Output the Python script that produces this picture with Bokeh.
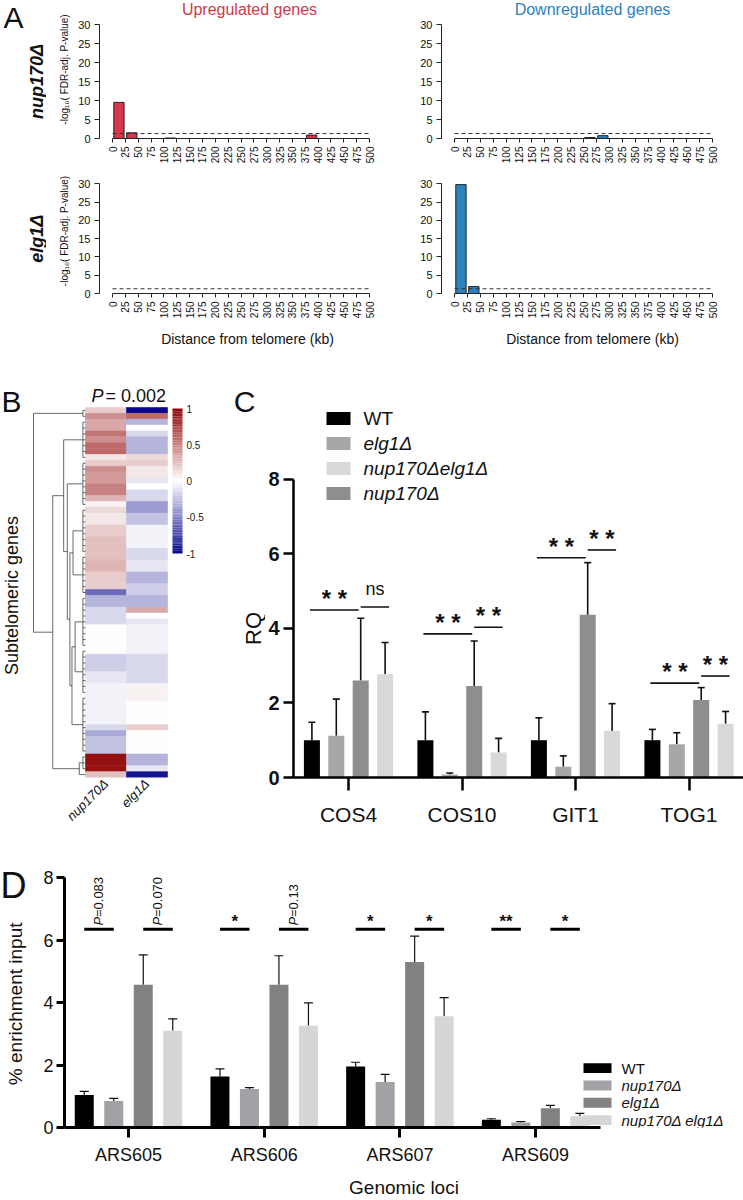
import numpy as np
from bokeh.plotting import figure
from bokeh.models import (Range1d, FixedTicker, Label, LabelSet, ColumnDataSource,
                          LinearColorMapper)
from bokeh.layouts import column, row
from bokeh.embed import file_html
from bokeh.resources import INLINE
from bokeh.core.properties import value
from bokeh.transform import transform

FONT = "Liberation Sans"

# ===================== Panel A data =====================
bin_start_kb = [0, 25, 50, 75, 100, 125, 150, 175, 200, 225,
                250, 275, 300, 325, 350, 375, 400, 425, 450, 475]
a_ticks_kb = [0, 25, 50, 75, 100, 125, 150, 175, 200, 225, 250,
              275, 300, 325, 350, 375, 400, 425, 450, 475, 500]
a_yticks = [0, 5, 10, 15, 20, 25, 30]
up_nup170 = [9.5, 1.5, 0, 0, 0.12, 0, 0, 0, 0, 0, 0, 0, 0, 0, 0, 0.9, 0, 0, 0, 0]
down_nup170 = [0, 0, 0, 0, 0, 0, 0, 0, 0, 0, 0.25, 0.75, 0, 0, 0, 0, 0, 0, 0, 0]
up_elg1 = [0, 0, 0, 0, 0, 0, 0, 0, 0, 0, 0, 0, 0, 0, 0, 0, 0, 0, 0, 0]
down_elg1 = [29.8, 1.9, 0, 0, 0, 0, 0, 0, 0, 0, 0, 0, 0, 0, 0, 0, 0, 0, 0, 0]
fdr_cutoff = 1.3
UP_COLOR = "#d6374b"
DOWN_COLOR = "#2b82bf"

# ===================== Panel B data (log-fold changes, top to bottom) =====================
hm_nup170 = [0.2, 0.45, 0.35, 0.35, 0.55, 0.45, 0.6, 0.6, 0.1, 0.2,
              0.45, 0.4, 0.4, 0.5, 0.5, 0.3, 0.05, 0.15, 0.1, 0.1,
              0.2, 0.2, 0.25, 0.25, 0.25, 0.25, 0.3, 0.3, 0.2, 0.2,
              0.2, -0.6, -0.3, -0.3, -0.15, -0.15, -0.15, 0.0, 0.0, 0.0,
              0.0, 0.0, -0.2, -0.2, -0.2, -0.1, -0.1, -0.05, -0.05, -0.05,
              -0.05, -0.05, -0.05, -0.05, -0.15, -0.35, -0.25, -0.25, -0.25, 0.95,
              0.95, 0.95, 0.25]
hm_elg1 = [-1.0, 0.6, -0.3, 0.0, -0.15, -0.3, -0.3, -0.3, 0.15, 0.2,
           0.1, 0.1, -0.1, 0.0, -0.15, -0.15, -0.4, -0.4, -0.25, -0.25,
           -0.05, -0.05, -0.05, -0.05, -0.15, -0.15, -0.1, -0.1, -0.3, -0.3,
           -0.2, -0.2, -0.3, -0.3, 0.35, 0.0, -0.1, -0.05, -0.05, -0.05,
           -0.05, -0.05, -0.15, -0.15, -0.15, -0.15, -0.15, 0.05, 0.05, 0.05,
           0.0, 0.0, 0.0, 0.0, 0.2, 0.0, 0.0, 0.0, 0.0, -0.3,
           -0.3, -0.1, -0.95]
hm_columns = ["nup170Δ", "elg1Δ"]
# dendrogram: leaf clusters (first/last row) and merges (height, upper child, lower child)
dend_cl_first = [0, 2, 9, 17, 25, 32, 41, 49, 59, 62]
dend_cl_last = [1, 8, 16, 24, 31, 40, 48, 58, 61, 62]
dend_height = [0.20, 0.26, 0.24, 0.30, 0.35, 0.42, 0.12, 0.63, 1.00]
dend_upper = ["c5", "n0", "c3", "n2", "c2", "c1", "c8", "n5", "c0"]
dend_lower = ["c6", "c7", "c4", "n1", "n3", "n4", "c9", "n6", "n7"]
dend_leaf_h = 0.05
cb_ticks = [1, 0.5, 0, -0.5, -1]
cb_tick_text = ["1", "0.5", "0", "-0.5", "-1"]

# ===================== Panel C data =====================
c_genes = ["COS4", "COS10", "GIT1", "TOG1"]
c_bar_strains = ["WT", "elg1Δ", "nup170Δ", "nup170Δelg1Δ"]
c_legend_order = ["WT", "elg1Δ", "nup170Δelg1Δ", "nup170Δ"]
rq_wt = [1.0, 1.0, 1.0, 1.0]
rq_wt_sd = [0.48, 0.76, 0.60, 0.29]
rq_elg1 = [1.12, 0.08, 0.29, 0.89]
rq_elg1_sd = [0.98, 0.04, 0.29, 0.31]
rq_nup170 = [2.60, 2.45, 4.36, 2.08]
rq_nup170_sd = [1.67, 1.21, 1.40, 0.33]
rq_double = [2.77, 0.67, 1.25, 1.44]
rq_double_sd = [0.85, 0.38, 0.73, 0.33]
c_yticks = [0, 2, 4, 6, 8]
c_sig1_y = [4.49, 3.85, 5.89, 2.53]
c_sig1_txt = ["* *", "* *", "* *", "* *"]
c_sig2_y = [4.57, 4.03, 6.10, 2.72]
c_sig2_txt = ["ns", "* *", "* *", "* *"]
C_COLORS = {"WT": "#000000", "elg1Δ": "#a7a7a7", "nup170Δ": "#8e8e8e", "nup170Δelg1Δ": "#d9d9d9"}

# ===================== Panel D data =====================
d_loci = ["ARS605", "ARS606", "ARS607", "ARS609"]
d_bar_strains = ["WT", "nup170Δ", "elg1Δ", "nup170Δ elg1Δ"]
enr_wt = [1.04, 1.63, 1.95, 0.25]
enr_wt_sd = [0.12, 0.25, 0.14, 0.03]
enr_nup170 = [0.85, 1.23, 1.46, 0.16]
enr_nup170_sd = [0.08, 0.05, 0.24, 0.03]
enr_elg1 = [4.57, 4.57, 5.30, 0.62]
enr_elg1_sd = [0.96, 0.93, 0.83, 0.09]
enr_double = [3.10, 3.26, 3.56, 0.36]
enr_double_sd = [0.38, 0.73, 0.60, 0.09]
d_yticks = [0, 2, 4, 6, 8]
d_sig_y = 6.35
d_sig1_txt = ["P=0.083", "*", "*", "**"]
d_sig2_txt = ["P=0.070", "P=0.13", "*", "*"]
D_COLORS = {"WT": "#000000", "nup170Δ": "#a2a2a6", "elg1Δ": "#828282", "nup170Δ elg1Δ": "#d6d6d6"}


def base_fig(width, height, xr, yr, left=0, right=0, top=0, bottom=0, axes=True):
    kw = dict(width=width, height=height, x_range=xr, y_range=yr, output_backend="svg",
              toolbar_location=None, min_border_left=left, min_border_right=right,
              min_border_top=top, min_border_bottom=bottom)
    if not axes:
        kw.update(x_axis_location=None, y_axis_location=None)
    p = figure(**kw)
    p.outline_line_color = None
    p.grid.visible = False
    p.background_fill_color = "white"
    p.border_fill_color = "white"
    return p


def style_axis(ax, size, color="#222222", lw=1, tick_out=4, standoff=3, bold=False):
    ax.axis_line_color = color
    ax.axis_line_width = lw
    ax.major_tick_line_color = color
    ax.major_tick_line_width = lw
    ax.major_tick_out = tick_out
    ax.major_tick_in = 0
    ax.minor_tick_line_color = None
    ax.major_label_text_font = FONT
    ax.major_label_text_font_size = size
    ax.major_label_text_color = "#111111"
    ax.major_label_standoff = standoff
    ax.major_label_text_font_style = "bold" if bold else "normal"


def axis_title(ax, text, size, standoff):
    ax.axis_label = text
    ax.axis_label_text_font = FONT
    ax.axis_label_text_font_size = size
    ax.axis_label_text_font_style = "normal"
    ax.axis_label_text_color = "#111111"
    ax.axis_label_standoff = standoff


def lab(p, x, y, text, size, style="normal", angle=0.0, align="center", baseline="middle", color="#111111"):
    p.add_layout(Label(x=x, y=y, text=text, text_font=FONT, text_font_size=size,
                       text_font_style=style, angle=angle, text_align=align,
                       text_baseline=baseline, text_color=color))


def gutter(width, height, bottom):
    fh = height - bottom
    return base_fig(width, height, Range1d(0, width), Range1d(fh, 0), bottom=bottom, axes=False)


# ===================== Panel A =====================
def panel_a(width, height, border_left, zero_px, kb_px, frame_h, vals, color,
            title=None, title_px=None, ylab=False, xlabel=None):
    unit_px = 3.8
    X = lambda lx: (lx - zero_px) / kb_px
    Y = lambda ly: (frame_h - ly) / unit_px
    p = base_fig(width, height, Range1d(X(border_left), X(width)), Range1d(0, Y(0)),
                 left=border_left, bottom=height - frame_h)
    xa, ya = p.xaxis[0], p.yaxis[0]
    xa.ticker = FixedTicker(ticks=a_ticks_kb)
    xa.bounds = (a_ticks_kb[0], a_ticks_kb[-1])
    xa.major_label_orientation = np.pi / 2
    style_axis(xa, "10px", tick_out=4, standoff=4)
    ya.ticker = FixedTicker(ticks=a_yticks)
    ya.bounds = (a_yticks[0], a_yticks[-1])
    style_axis(ya, "11px", tick_out=5, standoff=4)
    if ylab:
        axis_title(ya, "-log\u2081\u2080( FDR-adj. P-value)", "10px", 5)
    if xlabel:
        axis_title(xa, xlabel, "14px", 10)
    bw = bin_start_kb[1] - bin_start_kb[0]
    centers = [s + bw / 2 for s in bin_start_kb]
    p.vbar(x=centers, top=vals, bottom=0, width=bw * 0.8, fill_color=color,
           line_color="#222222", line_width=1)
    p.line(x=[a_ticks_kb[0], a_ticks_kb[-1]], y=[fdr_cutoff, fdr_cutoff],
           line_dash="4 3", line_color="#333333", line_width=1)
    if title:
        lab(p, X(title_px), Y(9), title, "16px", color=color)
    return p


gA1 = gutter(46, 168, 30)
lab(gA1, 13, 17, "A", "30px")
lab(gA1, 36, 81, "nup170Δ", "18px", style="bold italic", angle=np.pi / 2)
pA1 = panel_a(349, 168, 53, 66, 0.514, 138, up_nup170, UP_COLOR,
              title="Upregulated genes", title_px=203, ylab=True)
pA2 = panel_a(348, 168, 46, 59, 0.516, 138, down_nup170, DOWN_COLOR,
              title="Downregulated genes", title_px=197)
gA3 = gutter(46, 182, 52)
lab(gA3, 36, 73, "elg1Δ", "18px", style="bold italic", angle=np.pi / 2)
pA3 = panel_a(349, 182, 53, 66, 0.514, 130, up_elg1, UP_COLOR, ylab=True,
              xlabel="Distance from telomere (kb)")
pA4 = panel_a(348, 182, 46, 59, 0.516, 130, down_elg1, DOWN_COLOR,
              xlabel="Distance from telomere (kb)")

# ===================== Panel B (+ C letter and RQ title) =====================
B_W, B_H, B_BOT = 265, 495, 68
b_fh = B_H - B_BOT
heat_left, col_px, heat_top = 85, 41, 57
n_rows = len(hm_nup170)
row_px = (b_fh - heat_top) / n_rows
BX = lambda lx: (lx - heat_left) / col_px
BY = lambda ly: (ly - heat_top) / row_px
pB = base_fig(B_W, B_H, Range1d(BX(0), BX(B_W)), Range1d(BY(b_fh), BY(0)), bottom=B_BOT)
pB.yaxis.visible = False
bx_ax = pB.xaxis[0]
bx_ax.ticker = FixedTicker(ticks=[0.5, 1.5])
bx_ax.major_label_overrides = {0.5: hm_columns[0], 1.5: hm_columns[1]}
bx_ax.major_label_orientation = np.pi / 4
style_axis(bx_ax, "13px", tick_out=0, standoff=4)
bx_ax.axis_line_color = None
bx_ax.major_tick_line_color = None
bx_ax.major_label_text_font_style = "italic"


def blend(c1, c2, t):
    return "#%02x%02x%02x" % tuple(int(round(a + (b - a) * t)) for a, b in zip(c1, c2))


WHITE, BLUE, RED = (255, 255, 255), (8, 8, 140), (145, 6, 6)
palette = []
for k in range(256):
    t = k / 255 * 2 - 1
    palette.append(blend(WHITE, BLUE, -t) if t < 0 else blend(WHITE, RED, t))
mapper = LinearColorMapper(palette=palette, low=-1, high=1)

hm_src = ColumnDataSource(dict(
    x=[0.5] * n_rows + [1.5] * n_rows,
    y=[r + 0.5 for r in range(n_rows)] * 2,
    v=hm_nup170 + hm_elg1))
pB.rect("x", "y", width=1, height=1, source=hm_src,
        fill_color=transform("v", mapper), line_color=transform("v", mapper), line_width=0.6)

# dendrogram
DW = (heat_left - 33) / col_px
pos, hgt = {}, {}
for i, (a, b) in enumerate(zip(dend_cl_first, dend_cl_last)):
    pos["c%d" % i] = (a + b) / 2 + 0.5
    hgt["c%d" % i] = dend_leaf_h
sx0, sy0, sx1, sy1 = [], [], [], []
for r in range(n_rows):
    sx0.append(0); sx1.append(-dend_leaf_h * DW); sy0.append(r + 0.5); sy1.append(r + 0.5)
for a, b in zip(dend_cl_first, dend_cl_last):
    sx0.append(-dend_leaf_h * DW); sx1.append(-dend_leaf_h * DW); sy0.append(a + 0.5); sy1.append(b + 0.5)
for i, (h, u, l) in enumerate(zip(dend_height, dend_upper, dend_lower)):
    nm = "n%d" % i
    pos[nm] = (pos[u] + pos[l]) / 2
    hgt[nm] = h
    sx0 += [-h * DW, -hgt[u] * DW, -hgt[l] * DW]
    sx1 += [-h * DW, -h * DW, -h * DW]
    sy0 += [pos[u], pos[u], pos[l]]
    sy1 += [pos[l], pos[u], pos[l]]
pB.segment(x0=sx0, y0=sy0, x1=sx1, y1=sy1, line_color="#444444", line_width=0.8)

# colour key (drawn through the same colour mapper)
cb_top, cb_bot = BY(58), BY(203)
cb_levels = list(np.linspace(1, -1, 90))
cb_step = (cb_bot - cb_top) / len(cb_levels)
cb_src = ColumnDataSource(dict(x=[BX(177)] * len(cb_levels),
                               y=[cb_top + (k + 0.5) * cb_step for k in range(len(cb_levels))],
                               v=cb_levels))
pB.rect("x", "y", width=10 / col_px, height=cb_step * 1.05, source=cb_src,
        fill_color=transform("v", mapper), line_color=None)
cb_lab_src = ColumnDataSource(dict(x=[BX(186)] * len(cb_ticks),
                                   y=[cb_top + (1 - v) / 2 * (cb_bot - cb_top) for v in cb_ticks],
                                   t=cb_tick_text))
pB.add_layout(LabelSet(x="x", y="y", text="t", source=cb_lab_src, text_font=value(FONT),
                       text_font_size="10px", text_align="left", text_baseline="middle",
                       text_color="#222222"))

lab(pB, BX(11), BY(51), "B", "30px")
lab(pB, BX(103), BY(45), "P", "18px", style="italic", align="right")
lab(pB, BX(105), BY(45), "= 0.002", "18px", align="left")
lab(pB, BX(11), BY(245), "Subtelomeric genes", "18px", angle=np.pi / 2)
lab(pB, BX(244), BY(51), "C", "30px")
lab(pB, BX(253), BY(278), "RQ", "22px", angle=np.pi / 2)

# ===================== Panel C =====================
C_W, C_H, C_L, C_B = 478, 495, 28, 68
c_zero, c_grp, c_unit = 83, 113.5, 37.3
c_fh = C_H - C_B
CX = lambda lx: (lx - c_zero) / c_grp
CY = lambda ly: (c_fh - ly) / c_unit
pC = base_fig(C_W, C_H, Range1d(CX(C_L), CX(C_W)), Range1d(0, CY(0)), left=C_L, bottom=C_B)
xa, ya = pC.xaxis[0], pC.yaxis[0]
ya.ticker = FixedTicker(ticks=c_yticks)
ya.bounds = (c_yticks[0], c_yticks[-1])
style_axis(ya, "20px", color="#000000", lw=2.5, tick_out=10, standoff=4, bold=True)
xa.ticker = FixedTicker(ticks=list(range(len(c_genes))))
xa.major_label_overrides = {i: g for i, g in enumerate(c_genes)}
style_axis(xa, "21px", color="#000000", lw=2.5, tick_out=13, standoff=12)

c_d = 24.4 / c_grp
c_w = 16 / c_grp
c_offsets = [-1.5 * c_d, -0.5 * c_d, 0.5 * c_d, 1.5 * c_d]
c_means = [rq_wt, rq_elg1, rq_nup170, rq_double]
c_sds = [rq_wt_sd, rq_elg1_sd, rq_nup170_sd, rq_double_sd]
cap = 3.5 / c_grp
for s, off, m, sd in zip(c_bar_strains, c_offsets, c_means, c_sds):
    xs = [i + off for i in range(len(c_genes))]
    tops = [a + b for a, b in zip(m, sd)]
    pC.segment(x0=xs, y0=m, x1=xs, y1=tops, line_color="#111111", line_width=1.6)
    pC.segment(x0=[x - cap for x in xs], y0=tops, x1=[x + cap for x in xs], y1=tops,
               line_color="#111111", line_width=1.6)
    pC.vbar(x=xs, top=m, bottom=0, width=c_w, fill_color=C_COLORS[s], line_color=None)

gi = list(range(len(c_genes)))
l1x0 = [i + c_offsets[0] - 2 / c_grp for i in gi]
l1x1 = [i + c_offsets[2] - 2 / c_grp for i in gi]
l2x0 = [i + c_offsets[2] for i in gi]
l2x1 = [i + c_offsets[3] + 4 / c_grp for i in gi]
pC.segment(x0=l1x0, y0=c_sig1_y, x1=l1x1, y1=c_sig1_y, line_color="#111111", line_width=1.6)
pC.segment(x0=l2x0, y0=c_sig2_y, x1=l2x1, y1=c_sig2_y, line_color="#111111", line_width=1.6)


def c_txt_y(ys, txts):
    return [y + (0.32 if t == "ns" else 0.08) for y, t in zip(ys, txts)]


c_sig_src = ColumnDataSource(dict(
    x=[(a + b) / 2 for a, b in zip(l1x0, l1x1)] + [(a + b) / 2 for a, b in zip(l2x0, l2x1)],
    y=c_txt_y(c_sig1_y, c_sig1_txt) + c_txt_y(c_sig2_y, c_sig2_txt),
    t=c_sig1_txt + c_sig2_txt,
    fs=["24px" if "*" in t else "18px" for t in c_sig1_txt + c_sig2_txt],
    st=["bold" if "*" in t else "normal" for t in c_sig1_txt + c_sig2_txt]))
pC.add_layout(LabelSet(x="x", y="y", text="t", source=c_sig_src, text_font=value(FONT),
                       text_font_size="fs", text_font_style="st", text_align="center",
                       text_baseline="alphabetic", text_color="#111111"))

leg_y = [CY(68 + 25 * k) for k in range(len(c_legend_order))]
pC.rect(x=[CX(73)] * len(c_legend_order), y=leg_y, width=24 / c_grp, height=13 / c_unit,
        fill_color=[C_COLORS[s] for s in c_legend_order], line_color=None)
c_leg_src = ColumnDataSource(dict(x=[CX(98)] * len(c_legend_order), y=leg_y, t=c_legend_order,
                                  st=["normal" if s == "WT" else "italic" for s in c_legend_order]))
pC.add_layout(LabelSet(x="x", y="y", text="t", source=c_leg_src, text_font=value(FONT),
                       text_font_size="19px", text_font_style="st", text_align="left",
                       text_baseline="middle", text_color="#111111"))

# ===================== Panel D =====================
D_W, D_H, D_L, D_B = 713, 355, 34, 70
d_zero, d_grp, d_unit = 98, 135.7, 31.56
d_fh = D_H - D_B
DX = lambda lx: (lx - d_zero) / d_grp
DY = lambda ly: (d_fh - ly) / d_unit
gD = gutter(30, D_H, D_B)
lab(gD, 13, 40, "D", "36px")
lab(gD, 15, 160, "% enrichment input", "19px", angle=np.pi / 2)

pD = base_fig(D_W, D_H, Range1d(DX(D_L), DX(D_W)), Range1d(0, DY(0)), left=D_L, bottom=D_B)
xa, ya = pD.xaxis[0], pD.yaxis[0]
ya.ticker = FixedTicker(ticks=d_yticks)
ya.bounds = (d_yticks[0], d_yticks[-1])
style_axis(ya, "18px", color="#000000", lw=3, tick_out=8, standoff=3)
xa.ticker = FixedTicker(ticks=list(range(len(d_loci))))
xa.major_label_overrides = {i: g for i, g in enumerate(d_loci)}
xa.bounds = (DX(D_L), DX(570))
style_axis(xa, "18px", color="#000000", lw=3, tick_out=10, standoff=7)
axis_title(xa, "Genomic loci", "19px", 9)

d_d = 29.5 / d_grp
d_w = 19 / d_grp
d_offsets = [-1.5 * d_d, -0.5 * d_d, 0.5 * d_d, 1.5 * d_d]
d_means = [enr_wt, enr_nup170, enr_elg1, enr_double]
d_sds = [enr_wt_sd, enr_nup170_sd, enr_elg1_sd, enr_double_sd]
dcap = 4.5 / d_grp
for s, off, m, sd in zip(d_bar_strains, d_offsets, d_means, d_sds):
    xs = [i + off for i in range(len(d_loci))]
    tops = [a + b for a, b in zip(m, sd)]
    pD.segment(x0=xs, y0=m, x1=xs, y1=tops, line_color="#111111", line_width=1.2)
    pD.segment(x0=[x - dcap for x in xs], y0=tops, x1=[x + dcap for x in xs], y1=tops,
               line_color="#111111", line_width=1.2)
    pD.vbar(x=xs, top=m, bottom=0, width=d_w, fill_color=D_COLORS[s], line_color=None)

di = list(range(len(d_loci)))
m1x0 = [i + d_offsets[0] for i in di]
m1x1 = [i + d_offsets[1] for i in di]
m2x0 = [i + d_offsets[2] for i in di]
m2x1 = [i + d_offsets[3] for i in di]
pD.segment(x0=m1x0 + m2x0, y0=[d_sig_y] * 8, x1=m1x1 + m2x1, y1=[d_sig_y] * 8,
           line_color="#000000", line_width=3)
star_x, star_t, p_x, p_rest = [], [], [], []
for x0, x1, t in zip(m1x0 + m2x0, m1x1 + m2x1, d_sig1_txt + d_sig2_txt):
    if t.startswith("P"):
        p_x.append((x0 + x1) / 2)
        p_rest.append(t[1:])
    else:
        star_x.append((x0 + x1) / 2)
        star_t.append(t)
pD.add_layout(LabelSet(x="x", y="y", text="t",
                       source=ColumnDataSource(dict(x=star_x, y=[d_sig_y + 0.08] * len(star_x), t=star_t)),
                       text_font=value(FONT), text_font_size="17px", text_font_style="bold",
                       text_align="center", text_baseline="alphabetic", text_color="#111111"))
pD.add_layout(LabelSet(x="x", y="y", text="t",
                       source=ColumnDataSource(dict(x=p_x, y=[d_sig_y + 0.12] * len(p_x), t=["P"] * len(p_x))),
                       text_font=value(FONT), text_font_size="13px", text_font_style="italic",
                       angle=np.pi / 2, text_align="left", text_baseline="middle", text_color="#111111"))
pD.add_layout(LabelSet(x="x", y="y", text="t",
                       source=ColumnDataSource(dict(x=p_x, y=[d_sig_y + 0.12 + 8.5 / d_unit] * len(p_x), t=p_rest)),
                       text_font=value(FONT), text_font_size="13px",
                       angle=np.pi / 2, text_align="left", text_baseline="middle", text_color="#111111"))

dleg_y = [DY(225 + 17.5 * k) for k in range(len(d_bar_strains))]
pD.rect(x=[DX(567)] * len(d_bar_strains), y=dleg_y, width=28 / d_grp, height=10 / d_unit,
        fill_color=[D_COLORS[s] for s in d_bar_strains], line_color=None)
pD.add_layout(LabelSet(x="x", y="y", text="t",
                       source=ColumnDataSource(dict(x=[DX(591)] * len(d_bar_strains), y=dleg_y, t=d_bar_strains,
                                                    st=["normal" if s == "WT" else "italic" for s in d_bar_strains])),
                       text_font=value(FONT), text_font_size="15px", text_font_style="st",
                       text_align="left", text_baseline="middle", text_color="#111111"))

layout = column(row(gA1, pA1, pA2), row(gA3, pA3, pA4), row(pB, pC), row(gD, pD))
open("out.html", "w").write(file_html(layout, INLINE, "figure"))
